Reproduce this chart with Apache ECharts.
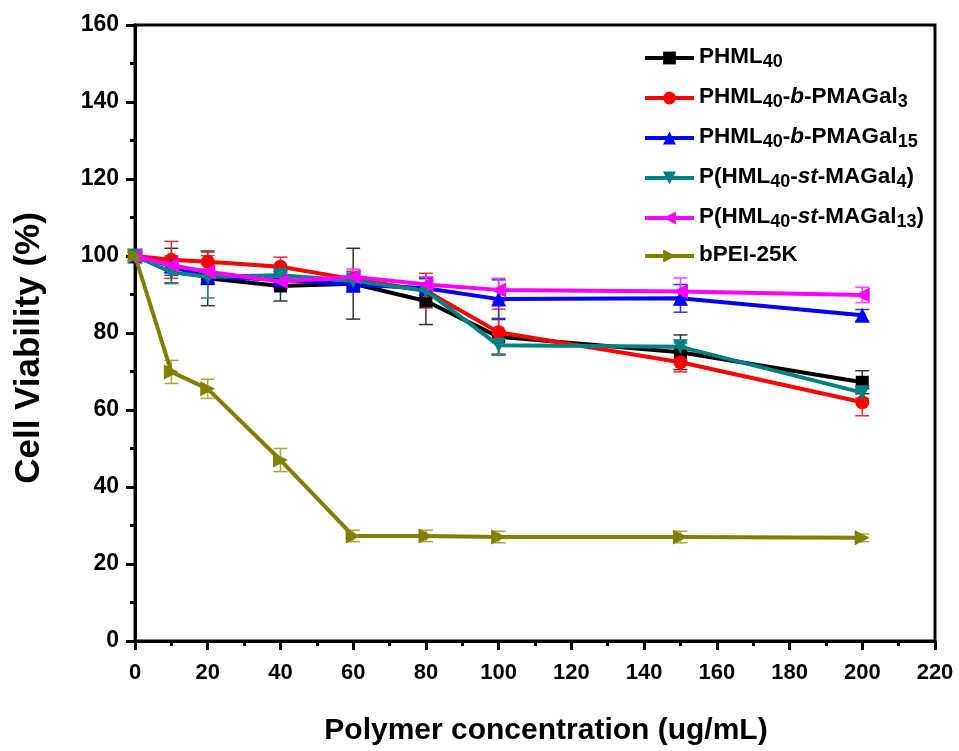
<!DOCTYPE html>
<html>
<head>
<meta charset="utf-8">
<script src="https://cdn.jsdelivr.net/npm/echarts@6/dist/echarts.min.js"></script>
<style>html,body{margin:0;padding:0;background:#fff;}#c{width:959px;height:751px;}</style>
</head>
<body>
<div id="c"></div>
<script>
// ---- data ----
var xValues = [0, 10, 20, 40, 60, 80, 100, 150, 200];
var seriesNames = ['PHML40', 'PHML40-b-PMAGal3', 'PHML40-b-PMAGal15', 'P(HML40-st-MAGal4)', 'P(HML40-st-MAGal13)', 'bPEI-25K'];
var phml40      = [100, 97.5, 94.2, 92.2, 92.8, 88.3, 79.0, 75.0, 67.2];
var phmlB3      = [100, 99.0, 98.5, 97.2, 94.0, 91.0, 80.2, 72.4, 62.0];
var phmlB15     = [100, 97.5, 94.6, 93.8, 92.6, 91.6, 88.8, 89.0, 84.6];
var phmlSt4     = [100, 95.8, 94.6, 95.0, 93.6, 91.0, 76.8, 76.4, 64.5];
var phmlSt13    = [100, 97.6, 95.9, 93.4, 94.6, 92.6, 91.2, 90.8, 89.9];
var bpei        = [100, 69.9, 65.5, 47.0, 27.3, 27.3, 27.0, 27.0, 26.8];
var err40       = [0, 4.5, 7.1, 3.9, 9.2, 6.1, 4.5, 4.5, 3.0];
var errB3       = [0, 4.8, 2.5, 2.5, 2.0, 4.5, 6.0, 2.5, 3.5];
var errB15      = [0, 2.5, 2.0, 2.0, 2.0, 2.5, 5.0, 3.6, 1.5];
var errSt4      = [0, 3.0, 5.5, 2.0, 2.0, 2.0, 2.5, 1.0, 1.5];
var errSt13     = [0, 2.0, 2.0, 2.0, 2.0, 2.0, 3.0, 3.5, 2.0];
var errBpei     = [0, 3.0, 2.5, 3.0, 1.5, 1.5, 1.5, 1.5, 1.0];
var xTicks = [0, 20, 40, 60, 80, 100, 120, 140, 160, 180, 200, 220];
var yTicks = [0, 20, 40, 60, 80, 100, 120, 140, 160];

var values = [phml40, phmlB3, phmlB15, phmlSt4, phmlSt13, bpei];
var errors = [err40, errB3, errB15, errSt4, errSt13, errBpei];
var colors = ['#000000', '#ff0000', '#0000ff', '#008080', '#ff00ff', '#808000'];
var errColors = ['#333333', '#e03030', '#3030ff', '#2a8a8a', '#ff40ff', '#a8a840'];
var symbols = ['rect', 'circle', 'triangle',
  'path://M0,0 L10,0 L5,10 Z',
  'path://M10,0 L10,10 L0,5 Z',
  'path://M0,0 L10,5 L0,10 Z'];
var symbolSizes = [13, 14, 15, 15, 15, 15];

var legendRich = {
  PHML40: '{n|PHML}{s|40}',
  'PHML40-b-PMAGal3': '{n|PHML}{s|40}{n|-}{i|b}{n|-PMAGal}{s|3}',
  'PHML40-b-PMAGal15': '{n|PHML}{s|40}{n|-}{i|b}{n|-PMAGal}{s|15}',
  'P(HML40-st-MAGal4)': '{n|P(HML}{s|40}{n|-}{i|st}{n|-MAGal}{s|4}{n|)}',
  'P(HML40-st-MAGal13)': '{n|P(HML}{s|40}{n|-}{i|st}{n|-MAGal}{s|13}{n|)}',
  'bPEI-25K': '{n|bPEI-25K}'
};

var FONT = '"Liberation Sans", Arial, Helvetica, sans-serif';

var series = [];
// error bars first (drawn beneath)
values.forEach(function (vals, si) {
  var data = xValues.map(function (x, i) { return [x, vals[i] - errors[si][i], vals[i] + errors[si][i]]; })
    .filter(function (d) { return d[2] - d[1] > 0; });
  series.push({
    type: 'custom',
    name: seriesNames[si] + ' err',
    silent: true,
    z: 3,
    data: data,
    renderItem: function (params, api) {
      var x = api.value(0);
      var lo = api.coord([x, api.value(1)]);
      var hi = api.coord([x, api.value(2)]);
      var hw = 7;
      var st = { stroke: errColors[si], lineWidth: 1.5 };
      return {
        type: 'group',
        children: [
          { type: 'line', shape: { x1: lo[0], y1: lo[1], x2: hi[0], y2: hi[1] }, style: st },
          { type: 'line', shape: { x1: lo[0] - hw, y1: lo[1], x2: lo[0] + hw, y2: lo[1] }, style: st },
          { type: 'line', shape: { x1: hi[0] - hw, y1: hi[1], x2: hi[0] + hw, y2: hi[1] }, style: st }
        ]
      };
    }
  });
});
values.forEach(function (vals, si) {
  series.push({
    type: 'line',
    name: seriesNames[si],
    data: xValues.map(function (x, i) { return [x, vals[i]]; }),
    symbol: symbols[si],
    symbolSize: symbolSizes[si],
    showAllSymbol: true,
    z: 4 + si,
    lineStyle: { color: colors[si], width: 4 },
    itemStyle: { color: colors[si] },
    emphasis: { disabled: true },
    animation: false
  });
});

var chart = echarts.init(document.getElementById('c'));
chart.setOption({
  animation: false,
  backgroundColor: '#fff',
  grid: { left: 135, right: 24, top: 25, bottom: 110, show: true, borderColor: '#000', borderWidth: 3 },
  legend: {
    data: seriesNames,
    orient: 'vertical',
    left: 643,
    top: 43,
    padding: 0,
    itemWidth: 49,
    itemHeight: 16,
    itemGap: 12,
    lineStyle: { width: 4 },
    formatter: function (name) { return legendRich[name]; },
    textStyle: {
      rich: {
        n: { fontFamily: FONT, fontWeight: 'bold', fontSize: 22.5, color: '#000', lineHeight: 26, verticalAlign: 'top' },
        i: { fontFamily: FONT, fontWeight: 'bold', fontStyle: 'italic', fontSize: 22.5, color: '#000', lineHeight: 26, verticalAlign: 'top' },
        s: { fontFamily: FONT, fontWeight: 'bold', fontSize: 18, color: '#000', lineHeight: 19, padding: [10, 0, 0, 0], verticalAlign: 'bottom' }
      }
    }
  },
  xAxis: {
    type: 'value',
    min: 0, max: 220, interval: 20,
    name: 'Polymer concentration (ug/mL)',
    nameLocation: 'middle',
    nameGap: 75,
    nameTextStyle: { fontFamily: FONT, fontWeight: 'bold', fontSize: 30, color: '#000', verticalAlign: 'top', padding: [0, 0, 0, 22] },
    axisLine: { show: true, onZero: false, lineStyle: { color: '#000', width: 3 } },
    axisTick: { show: true, inside: false, length: 9, lineStyle: { color: '#000', width: 3 } },
    minorTick: { show: true, splitNumber: 2, length: 5, lineStyle: { color: '#000', width: 3 } },
    splitLine: { show: false },
    axisLabel: {
      margin: 21,
      fontFamily: '"Liberation Sans Narrow", ' + FONT,
      fontWeight: 'bold', fontSize: 22, color: '#000',
      formatter: function (v) { return xTicks.indexOf(v) >= 0 ? String(v) : ''; }
    }
  },
  yAxis: {
    type: 'value',
    min: 0, max: 160, interval: 20,
    name: 'Cell Viability (%)',
    nameLocation: 'middle',
    nameGap: 88,
    nameRotate: 90,
    nameTextStyle: { fontFamily: FONT, fontWeight: 'bold', fontSize: 35, color: '#000', padding: [0, 30, 0, 0] },
    axisLine: { show: true, lineStyle: { color: '#000', width: 3 } },
    axisTick: { show: true, inside: false, length: 9, lineStyle: { color: '#000', width: 3 } },
    minorTick: { show: true, splitNumber: 2, length: 5, lineStyle: { color: '#000', width: 3 } },
    splitLine: { show: false },
    axisLabel: {
      margin: 16,
      fontFamily: FONT, fontWeight: 'bold', fontSize: 23, color: '#000',
      formatter: function (v) { return yTicks.indexOf(v) >= 0 ? String(v) : ''; }
    }
  },
  series: series
});
</script>
</body>
</html>
